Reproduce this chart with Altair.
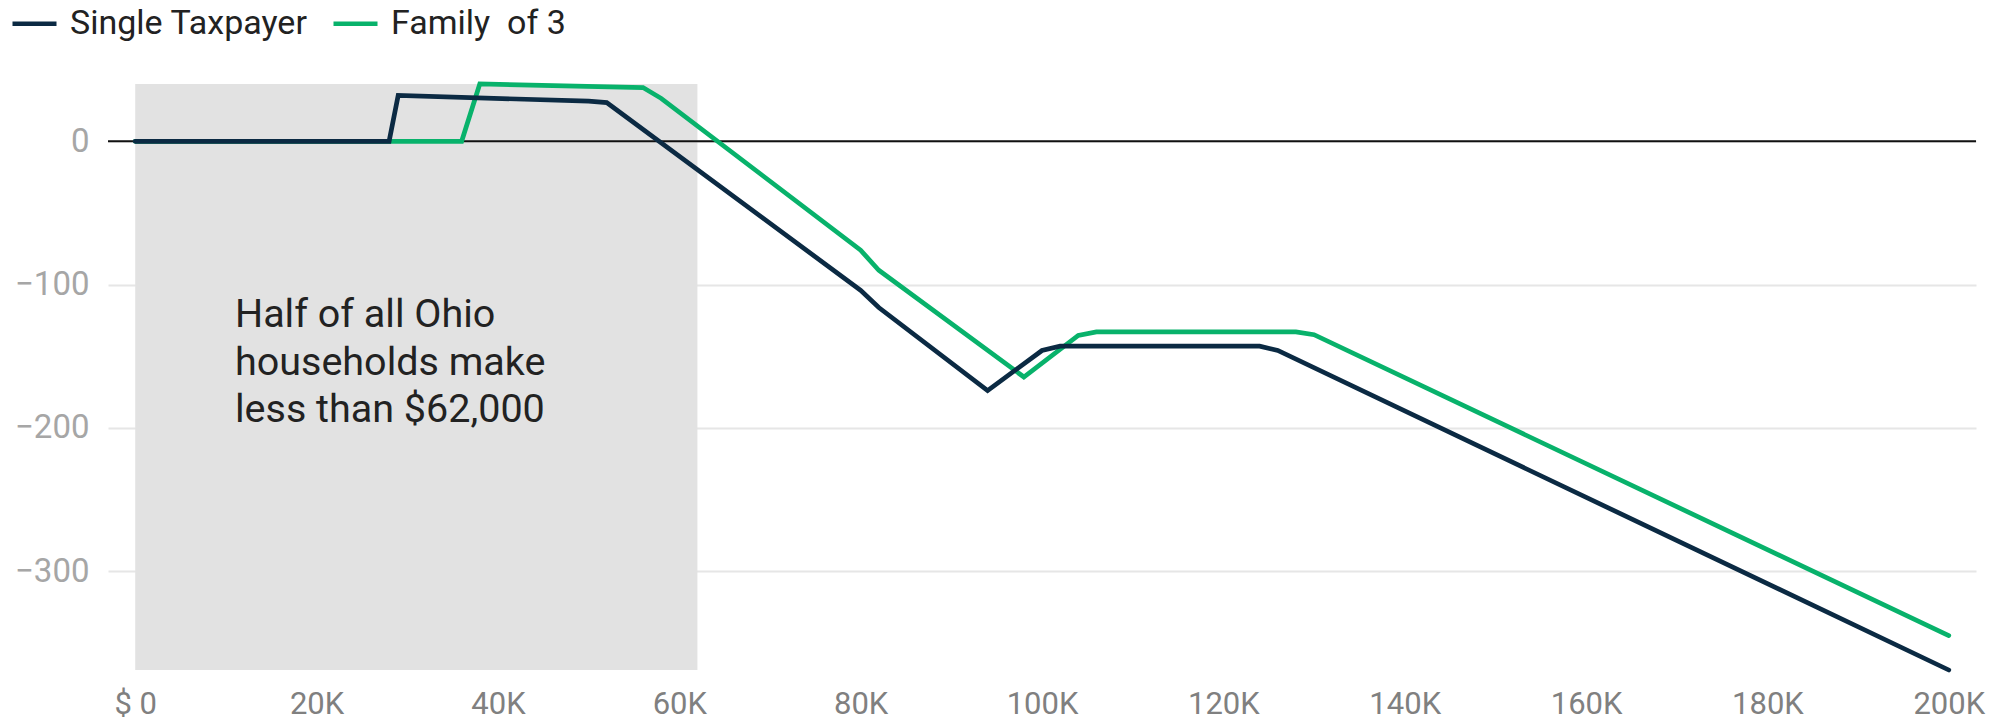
import altair as alt
import pandas as pd

# ---- data ----
single_income = [0, 28000, 29000, 50000, 52000, 80000, 82000, 94000, 100000, 102000, 124000, 126000, 200000]
single_change = [0, 0, 32, 28, 27, -104, -116, -174, -146, -143, -143, -146, -369]

family_income = [0, 36000, 38000, 56000, 58000, 80000, 82000, 98000, 104000, 106000, 128000, 130000, 200000]
family_change = [0, 0, 40, 37.5, 30, -76, -90, -164.5, -135.5, -133, -133, -135, -345]

series_names = ["Single Taxpayer", "Family\u00a0 of 3"]
series_colors = ["#0b2a43", "#08b26b"]

x_ticks = [0, 20000, 40000, 60000, 80000, 100000, 120000, 140000, 160000, 180000, 200000]
y_ticks = [-300, -200, -100, 0]

median_income = 62000
annotation = ["Half of all Ohio", "households make", "less than $62,000"]

y_min, y_max = -369, 40
x_min, x_max = -3000, 203000

# ---- build tables ----
rows = []
for x, y in zip(family_income, family_change):
    rows.append({"income": x, "change": y, "series": series_names[1]})
for x, y in zip(single_income, single_change):
    rows.append({"income": x, "change": y, "series": series_names[0]})
lines_df = pd.DataFrame(rows)

band_df = pd.DataFrame([{"x": 0, "x2": median_income, "y": y_max, "y2": y_min}])
zero_df = pd.DataFrame([{"y": 0}])
note_df = pd.DataFrame([{"x": 11000, "y": -129.7}])

W, H = 1868, 586
FONT = "Roboto"

x_scale = alt.Scale(domain=[x_min, x_max], nice=False, zero=False)
y_scale = alt.Scale(domain=[y_min, y_max], nice=False, zero=False)

band = alt.Chart(band_df).mark_rect(color="#e2e2e2").encode(
    x=alt.X("x:Q", scale=x_scale,
            axis=alt.Axis(values=x_ticks, title=None, grid=False, domain=False, ticks=False,
                          labelFont=FONT, labelFontSize=31, labelColor="#808080", labelPadding=19,
                          labelExpr="datum.value == 0 ? '$ 0' : format(datum.value / 1000, 'd') + 'K'")),
    x2="x2:Q",
    y=alt.Y("y:Q", scale=y_scale,
            axis=alt.Axis(values=y_ticks, title=None, grid=True, gridColor="#e6e6e6", gridWidth=2,
                          domain=False, ticks=False, labelFont=FONT, labelFontSize=33,
                          labelColor="#a6a6a6", labelPadding=19)),
    y2="y2:Q",
)

zero = alt.Chart(zero_df).mark_rule(color="#111111", strokeWidth=2).encode(
    y=alt.Y("y:Q", scale=y_scale)
)

lines = alt.Chart(lines_df).mark_line(strokeWidth=4.7, strokeJoin="miter", strokeCap="round").encode(
    x=alt.X("income:Q", scale=x_scale),
    y=alt.Y("change:Q", scale=y_scale),
    color=alt.Color("series:N", sort=None,
                    scale=alt.Scale(domain=series_names, range=series_colors),
                    legend=alt.Legend(title=None, orient="none", direction="horizontal",
                                      legendX=-98, legendY=-85, padding=0,
                                      symbolType="stroke", symbolStrokeWidth=4.5, symbolSize=1936,
                                      labelFont=FONT, labelFontSize=34, labelColor="#222222",
                                      labelLimit=0, labelOffset=11, columnPadding=16)),
    detail="series:N",
)

note = alt.Chart(note_df).mark_text(
    text=annotation, align="left", baseline="alphabetic", font=FONT, fontSize=39.5,
    lineHeight=47.5, color="#222222"
).encode(
    x=alt.X("x:Q", scale=x_scale),
    y=alt.Y("y:Q", scale=y_scale),
)

chart = alt.layer(band, zero, lines, note).properties(
    width=W, height=H,
    autosize=alt.AutoSizeParams(type="none"),
    padding={"left": 108, "top": 84, "right": 35, "bottom": 54},
    background="white",
).configure_view(stroke=None)

chart.save("out.html", embed_options={"renderer": "svg", "actions": False})
